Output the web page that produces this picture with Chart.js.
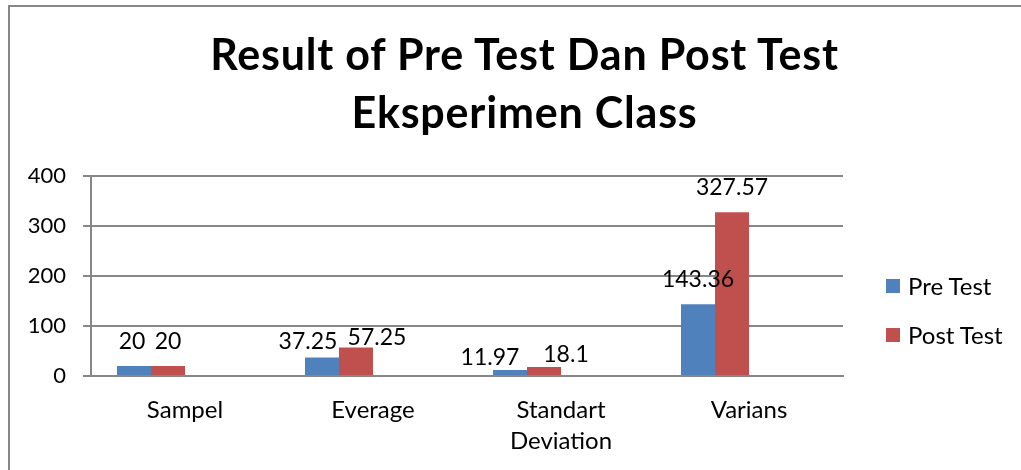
<!DOCTYPE html>
<html>
<head>
<meta charset="utf-8">
<title>Result of Pre Test Dan Post Test Eksperimen Class</title>
<script src="https://cdn.jsdelivr.net/npm/chart.js@4.4.1/dist/chart.umd.min.js"></script>
<style>
  html, body { margin: 0; padding: 0; background: #fff; overflow: hidden; }
  body { width: 1021px; height: 470px; position: relative; font-family: Lato, "Open Sans", sans-serif; }
  #frame { position: absolute; left: 8px; top: 5px; width: 2000px; height: 2000px;
           border-left: 2px solid #878787; border-top: 2px solid #878787; }
  #wrap { position: absolute; left: 0; top: 0; width: 1021px; height: 470px; }
  #title { position: absolute; left: 8px; top: 25px; width: 1033px; text-align: center;
           font-weight: 700; font-size: 43px; line-height: 58px; letter-spacing: 0.8px; color: #000; }
  .legend-item { position: absolute; left: 886px; height: 14px; display: flex; align-items: center;
                 font-size: 24px; line-height: 14px; color: #000; white-space: nowrap; }
  .legend-item i { display: inline-block; width: 14px; height: 14px; margin-right: 8px; }
</style>
</head>
<body>
<div id="frame"></div>
<div id="wrap"><canvas id="chart"></canvas></div>
<div id="title">Result of Pre Test Dan Post Test<br>Eksperimen Class</div>
<div id="legend"></div>
<script>
const categories = ["Sampel", "Everage", ["Standart", "Deviation"], "Varians"];
const preTest = [20, 37.25, 11.97, 143.36];
const postTest = [20, 57.25, 18.1, 327.57];
const yTicks = [0, 100, 200, 300, 400];

// the original chart has two empty series that still take up bar slots
const emptySeries = [null, null, null, null];

// labels that were dragged away from the bar top in the original: [dx, dy]
const labelNudge = { "0-1": [-14, 9], "1-1": [21, 15], "0-2": [-20, 12], "1-2": [22, 12], "0-0": [-2, 0] };

const valueLabels = {
  id: "valueLabels",
  afterDatasetsDraw(chart) {
    const ctx = chart.ctx;
    ctx.save();
    ctx.font = "23px Lato";
    ctx.fillStyle = "#000";
    ctx.textAlign = "center";
    ctx.textBaseline = "alphabetic";
    [0, 1].forEach((di) => {
      chart.getDatasetMeta(di).data.forEach((bar, i) => {
        const v = chart.data.datasets[di].data[i];
        if (v == null) return;
        const n = labelNudge[di + "-" + i] || [0, 0];
        ctx.fillText(String(v), bar.x + n[0], bar.y - 17 + n[1]);
      });
    });
    ctx.restore();
  },
};

Chart.defaults.font.family = "Lato";
Chart.defaults.font.size = 22;
Chart.defaults.color = "#000";

const chart = new Chart(document.getElementById("chart").getContext("2d"), {
  type: "bar",
  data: {
    labels: categories,
    datasets: [
      { label: "Pre Test", data: preTest, backgroundColor: "#4F81BD" },
      { label: "Post Test", data: postTest, backgroundColor: "#C0504D" },
      { label: "", data: emptySeries, backgroundColor: "transparent" },
      { label: "", data: emptySeries, backgroundColor: "transparent" },
    ],
  },
  options: {
    responsive: true,
    maintainAspectRatio: false,
    animation: false,
    layout: { padding: { top: 176, right: 178, left: 0, bottom: 0 } },
    datasets: { bar: { categoryPercentage: 0.7234, barPercentage: 1 } },
    plugins: {
      legend: { display: false },
      title: { display: false },
      tooltip: { enabled: false },
    },
    scales: {
      x: {
        grid: { display: false },
        border: { display: true, color: "#878787", width: 2 },
        ticks: { padding: 11, maxRotation: 0, autoSkip: false, font: { size: 24, lineHeight: 1.29 } },
        afterFit: (scale) => { scale.height = 94; },
      },
      y: {
        min: 0,
        max: 400,
        afterBuildTicks: (scale) => { scale.ticks = yTicks.map((v) => ({ value: v })); },
        grid: { color: "#878787", lineWidth: 2, tickLength: 8 },
        border: { display: true, color: "#878787", width: 2 },
        ticks: { padding: 17, font: { size: 22 } },
        afterFit: (scale) => { scale.width = 91; },
      },
    },
  },
  plugins: [valueLabels],
});

// legend, built from the first two datasets
const legend = document.getElementById("legend");
chart.data.datasets.slice(0, 2).forEach((ds, i) => {
  const item = document.createElement("div");
  item.className = "legend-item";
  item.style.top = 279 + i * 49 + "px";
  item.innerHTML = '<i style="background:' + ds.backgroundColor + '"></i><span>' + ds.label + "</span>";
  legend.appendChild(item);
});
</script>
</body>
</html>
